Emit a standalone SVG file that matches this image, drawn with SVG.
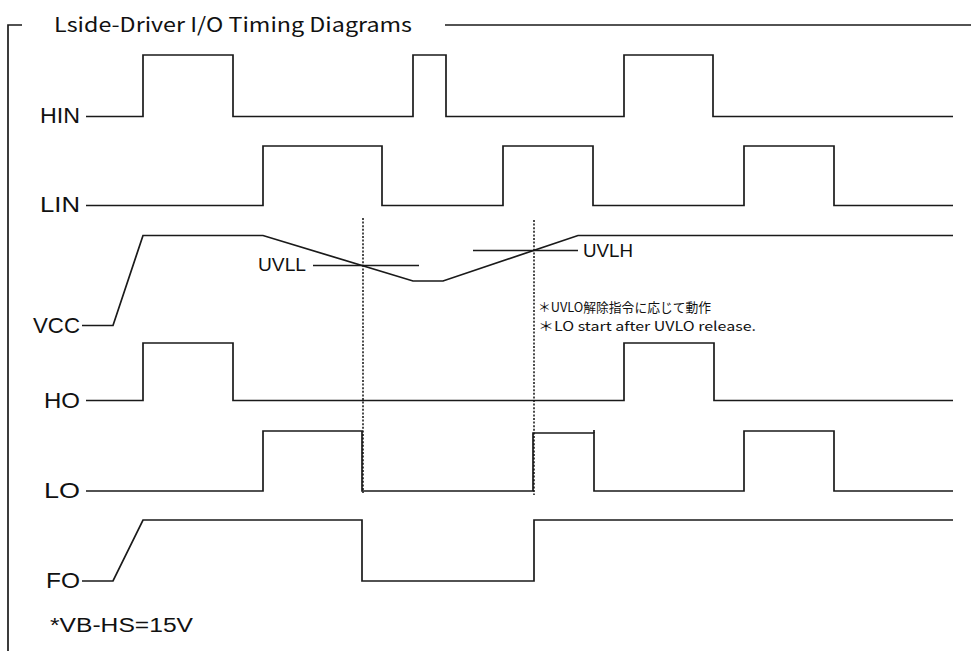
<svg xmlns="http://www.w3.org/2000/svg" width="971" height="651" viewBox="0 0 971 651">
<style>
.w{fill:none;stroke:#1a1a1a;stroke-width:1.7;stroke-linejoin:miter}
.d{fill:none;stroke:#111;stroke-width:1.5;stroke-dasharray:2 1.6}
.lb{font-family:"Liberation Sans",Arial,sans-serif;font-size:22px;fill:#111}
.sm{font-family:"Liberation Sans",Arial,sans-serif;font-size:19px;fill:#111}
.jp{font-family:"Noto Sans CJK JP","Liberation Sans",sans-serif;font-size:13px;fill:#111}
.tt{font-family:"Noto Sans CJK JP","Liberation Sans",sans-serif;font-size:20px;fill:#111}
.fn{font-family:"Liberation Sans",Arial,sans-serif;font-size:20px;fill:#111}
</style>
<rect width="971" height="651" fill="#fff"/>
<g id="frame">
<path class="w" d="M22,25 H8 V651"/>
<path class="w" d="M445,25 H971"/>
<text class="tt" x="54" y="32" textLength="358" lengthAdjust="spacingAndGlyphs">Lside-Driver I/O Timing Diagrams</text>
</g>
<g id="HIN">
<text class="lb" x="40" y="123" textLength="40" lengthAdjust="spacingAndGlyphs">HIN</text>
<path class="w" d="M86,116.5 H143 V55 H233 V116.5 H413 V55 H446 V116.5 H624 V55 H713 V116.5 H953"/>
</g>
<g id="LIN">
<text class="lb" x="40" y="212" textLength="40" lengthAdjust="spacingAndGlyphs">LIN</text>
<path class="w" d="M86,205.5 H263 V146 H382 V205.5 H503 V146 H593 V205.5 H744 V146 H834 V205.5 H953"/>
</g>
<g id="VCC">
<text class="lb" x="33" y="333" textLength="47" lengthAdjust="spacingAndGlyphs">VCC</text>
<path class="w" d="M82,325.5 H113 L143,235.5 H263 L413,281 H443 L578,235.5 H953"/>
</g>
<g id="UVLL">
<text class="sm" x="258" y="271" textLength="48" lengthAdjust="spacingAndGlyphs">UVLL</text>
<path class="w" d="M313,265.5 H419"/>
</g>
<g id="UVLH">
<text class="sm" x="583" y="257" textLength="50" lengthAdjust="spacingAndGlyphs">UVLH</text>
<path class="w" d="M473,250.5 H578"/>
</g>
<g id="note">
<text class="jp" x="538" y="312" textLength="173" lengthAdjust="spacingAndGlyphs">＊UVLO解除指令に応じて動作</text>
<text class="jp" x="538" y="331" textLength="218" lengthAdjust="spacingAndGlyphs">＊LO start after UVLO release.</text>
</g>
<g id="HO">
<text class="lb" x="44" y="408" textLength="36" lengthAdjust="spacingAndGlyphs">HO</text>
<path class="w" d="M86,400.5 H143 V343 H233 V400.5 H624 V343 H714 V400.5 H953"/>
</g>
<g id="LO">
<text class="lb" x="44" y="498" textLength="36" lengthAdjust="spacingAndGlyphs">LO</text>
<path class="w" d="M86,491 H263 V431 H362 V491 H533 V433 H594 V491 H744 V431 H834 V491 H953"/>
<path class="w" d="M594,433 V430"/>
</g>
<g id="FO">
<text class="lb" x="46" y="588" textLength="34" lengthAdjust="spacingAndGlyphs">FO</text>
<path class="w" d="M82,581 H113 L143,520 H362 V581 H534 V520 H953"/>
</g>
<g id="connectors">
<path class="d" d="M363,218 V493"/>
<path class="d" d="M534,220 V495"/>
</g>
<g id="footnote">
<text class="fn" x="50" y="632" textLength="143" lengthAdjust="spacingAndGlyphs">*VB-HS=15V</text>
</g>
</svg>
